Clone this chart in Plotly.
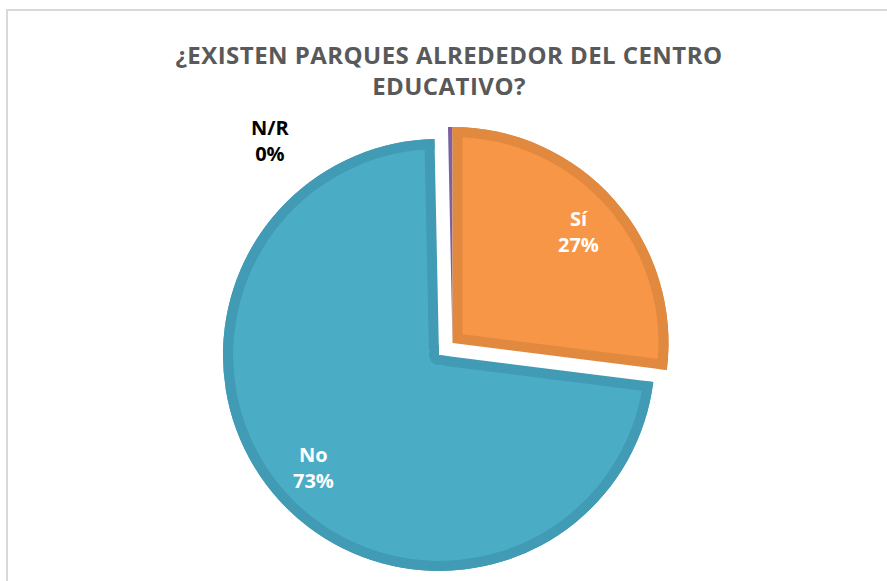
import math
import plotly.graph_objects as go

# ---------------- data ----------------
categories = ["Sí", "No", "N/R"]
counts = [81, 218, 1]
fill_colors = ["#f79646", "#4bacc6", "#7d60a1"]
edge_colors = ["#e0893f", "#419bb5", "#7a5c9e"]
label_colors = ["#ffffff", "#ffffff", "#000000"]
title_lines = ["¿EXISTEN PARQUES ALREDEDOR DEL CENTRO", "EDUCATIVO?"]

W, H = 887, 581
OFF = 0.0   # body margin removed via post_script
CLEAR = "rgba(0,0,0,0)"
FONT = "Open Sans"

total = sum(counts)
percents = [round(100 * c / total) for c in counts]
starts, ends = [], []
acc = 0
for c in counts:
    starts.append(acc / total * 360.0)
    acc += c
    ends.append(acc / total * 360.0)


def unit(deg):
    r = math.radians(deg)
    return math.sin(r), -math.cos(r)


def px(x, y):
    """screen pixel -> paper fraction"""
    return (x - OFF) / W, 1 - (y - OFF) / H


def wedge(cx, cy, r, a0, a1, color, hole=0.0):
    vals, cols = [], []
    for v, col in ((a0, CLEAR), (a1 - a0, color), (360.0 - a1, CLEAR)):
        if v > 1e-9:
            vals.append(v)
            cols.append(col)
    fx, fy = cx - OFF, cy - OFF
    return go.Pie(
        values=vals, marker=dict(colors=cols, line=dict(width=0)),
        sort=False, direction="clockwise", rotation=0, hole=hole,
        textinfo="none", hoverinfo="skip", showlegend=False,
        domain=dict(x=[(fx - r) / W, (fx + r) / W],
                    y=[(H - fy - r) / H, (H - fy + r) / H]))


R = 216.0   # outer radius (px)
T = 10.0    # inner border width (px)
traces = []

# ---- "No" slice (not exploded) ----
AX, AY = 439.0, 355.0
i = 1
a0, a1 = starts[i], ends[i]
traces.append(wedge(AX, AY, R, a0, a1, edge_colors[i]))
ux, uy = unit(a0 + 90)
traces.append(wedge(AX + T * ux, AY + T * uy, R - T, a0, a0 + 70, fill_colors[i]))
ux, uy = unit(a1 - 90)
traces.append(wedge(AX + T * ux, AY + T * uy, R - T, a1 - 70, a1, fill_colors[i]))
traces.append(wedge(AX, AY, R - T, a0 + 60, a1 - 60, fill_colors[i]))
traces.append(wedge(AX, AY, T, a0, a1, edge_colors[i]))
traces.append(wedge(AX, AY, R, a0, a1, edge_colors[i], hole=(R - T) / R))

# ---- exploded group: "Sí" and "N/R" ----
BX, BY = 452.5, 343.0
i = 2
traces.append(wedge(BX, BY, R, starts[i], ends[i], fill_colors[i]))
i = 0
a0, a1 = starts[i], ends[i]
half = (a1 - a0) / 2
s = T / math.sin(math.radians(half))
ch = math.cos(math.radians(half))
target = R - T + 0.5
rp = -s * ch + math.sqrt(s * s * ch * ch - s * s + target * target)
ux, uy = unit(a0 + half)
traces.append(wedge(BX, BY, R, a0, a1, edge_colors[i]))
traces.append(wedge(BX + s * ux, BY + s * uy, rp, a0, a1, fill_colors[i]))
traces.append(wedge(BX, BY, R, a0, a1, edge_colors[i], hole=(R - T) / R))

fig = go.Figure(traces)

# ---- data labels ----
annotations = []
centers = {0: (BX, BY), 1: (AX, AY)}
for i in (0, 1):
    cx, cy = centers[i]
    mid = (starts[i] + ends[i]) / 2
    ux, uy = unit(mid)
    lx, ly = px(cx + 0.78 * R * ux, cy + 0.78 * R * uy)
    annotations.append(dict(
        x=lx, y=ly, xref="paper", yref="paper",
        text=f"{categories[i]}<br>{percents[i]}%", showarrow=False,
        xanchor="center", yanchor="middle", align="center",
        font=dict(family=FONT, size=20, color=label_colors[i], weight="bold")))
nx, ny = px(270, 141)
annotations.append(dict(
    x=nx, y=ny, xref="paper", yref="paper",
    text=f"{categories[2]}<br>{percents[2]}%", showarrow=False,
    xanchor="center", yanchor="middle", align="center",
    font=dict(family=FONT, size=20, color=label_colors[2], weight="bold")))

title_html = "<br>".join(
    f'<span style="letter-spacing:0.45px">{ln}</span>' for ln in title_lines)
tx, ty = px(449, 64)
bx0, by1 = px(7, 10)

fig.update_layout(
    width=W, height=H,
    margin=dict(l=0, r=0, t=0, b=0),
    paper_bgcolor="white", plot_bgcolor="white",
    title=dict(text=title_html, x=tx, xanchor="center",
               y=ty, yanchor="middle", yref="container",
               font=dict(family=FONT, size=24, color="#595959", weight="bold")),
    annotations=annotations,
    shapes=[dict(type="rect", xref="paper", yref="paper",
                 x0=bx0, x1=1.05, y0=-0.05, y1=by1,
                 line=dict(color="#d9d9d9", width=2))],
)

fig.write_html("out.html",
               config={"displayModeBar": False},
               post_script="document.body.style.margin='0';"
                           "document.body.style.overflow='hidden';")
